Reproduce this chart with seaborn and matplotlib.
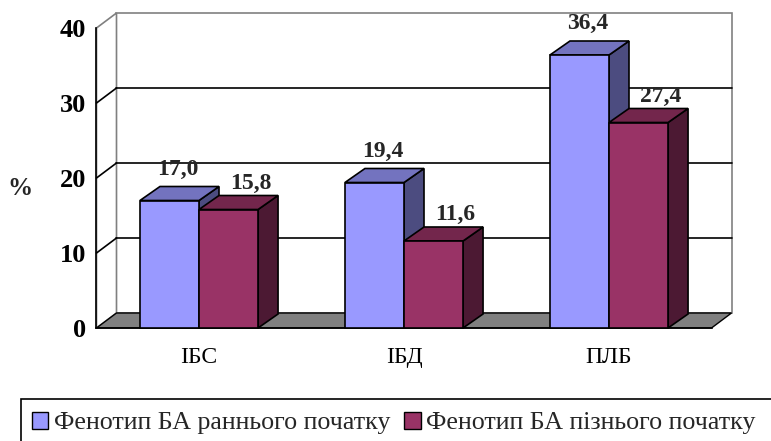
import pandas as pd
import numpy as np
import matplotlib.pyplot as plt
import matplotlib.colors as mcolors
import seaborn as sns
from matplotlib.patches import Polygon, Rectangle, Patch

# data
categories = ["ІБС", "ІБД", "ПЛБ"]
early_onset = [17.0, 19.4, 36.4]
late_onset = [15.8, 11.6, 27.4]
series_names = ["Фенотип БА раннього початку", "Фенотип БА пізнього початку"]
y_ticks = [0, 10, 20, 30, 40]

front_colors = ["#9999FF", "#993366"]
top_colors = ["#7373BF", "#73264C"]
side_colors = ["#4C4C80", "#4C1933"]

sns.set_style("white")
plt.rcParams["font.family"] = ["Liberation Serif", "DejaVu Serif"]

df = pd.DataFrame({
    "category": categories * 2,
    "value": early_onset + late_onset,
    "series": [series_names[0]] * len(categories) + [series_names[1]] * len(categories),
})

W, H = 771, 441
fig = plt.figure(figsize=(W / 100, H / 100), dpi=100)
ax = fig.add_axes([0, 0, 1, 1])

# pixel geometry of the excel style 3d box
px_per_cat = 205.0
px_per_unit = 7.5
x0_px, y0_px = 199.0, 328.0          # centre of first category, value 0
DX, DY = 20 / px_per_cat, 15 / px_per_unit    # wall depth
BDX, BDY = 20 / px_per_cat, 14 / px_per_unit  # bar depth
left, right, top = -0.5, len(categories) - 0.5, y_ticks[-1]
# label placement per series (x shift in px, height above value in units)
label_dx = [8 / px_per_cat, 22 / px_per_cat]
label_dy = [4.2, 3.5]

sns.barplot(data=df, x="category", y="value", hue="series", palette=front_colors,
            saturation=1, width=0.576, edgecolor="black", linewidth=1.2,
            legend=False, ax=ax)

ax.set_xlim(-x0_px / px_per_cat, (W - x0_px) / px_per_cat)
ax.set_ylim(-(H - y0_px) / px_per_unit, y0_px / px_per_unit)

# walls and floor
wall_grey = "#808080"
ax.add_patch(Rectangle((left + DX, DY), right - left, top, facecolor="white",
                       edgecolor=wall_grey, lw=1.2, zorder=1))
ax.add_patch(Polygon([(left, 0), (left + DX, DY), (left + DX, top + DY), (left, top)],
                     closed=True, facecolor="white", edgecolor=wall_grey, lw=1.2, zorder=1))
for v in y_ticks[1:-1]:
    ax.plot([left + DX, right + DX], [v + DY, v + DY], color="black", lw=1.2, zorder=1.5)
    ax.plot([left, left + DX], [v, v + DY], color="black", lw=1.2, zorder=1.5)
ax.add_patch(Polygon([(left, 0), (right, 0), (right + DX, DY), (left + DX, DY)],
                     closed=True, facecolor=wall_grey, edgecolor="black", lw=1.0, zorder=2))

# 3d tops and sides for the seaborn bars
bars = sorted([p for p in ax.patches if isinstance(p, Rectangle)
               and p.get_height() > 0 and p.get_width() < 1],
              key=lambda p: p.get_x())
for i, p in enumerate(bars):
    x, w, h = p.get_x(), p.get_width(), p.get_height()
    hexc = mcolors.to_hex(p.get_facecolor()).upper()
    k = front_colors.index(hexc) if hexc in front_colors else 0
    z = 3 + i * 0.01
    ax.add_patch(Polygon([(x + w, 0), (x + w + BDX, BDY), (x + w + BDX, h + BDY), (x + w, h)],
                         closed=True, facecolor=side_colors[k], edgecolor="black", lw=1.2, zorder=z))
    ax.add_patch(Polygon([(x, h), (x + w, h), (x + w + BDX, h + BDY), (x + BDX, h + BDY)],
                         closed=True, facecolor=top_colors[k], edgecolor="black", lw=1.2, zorder=z))
    p.set_zorder(5)
    ax.text(x + w / 2 + label_dx[k], h + label_dy[k], f"{h:.1f}".replace(".", ","),
            ha="center", va="center", fontsize=17, fontweight="bold", zorder=6)

# axes
ax.spines["top"].set_visible(False)
ax.spines["right"].set_visible(False)
ax.spines["left"].set_position(("data", left))
ax.spines["left"].set_bounds(0, top)
ax.spines["bottom"].set_position(("data", 0))
ax.spines["bottom"].set_bounds(left, right)
for s in ["left", "bottom"]:
    ax.spines[s].set_color("black")
    ax.spines[s].set_linewidth(1.2)
    ax.spines[s].set_zorder(2.5)

ax.set_yticks(y_ticks)
ax.set_yticklabels([str(t) for t in y_ticks], fontweight="bold")
ax.tick_params(axis="y", direction="out", length=4.5, width=1.2, pad=3,
               labelsize=19, color="black", labelcolor="black")
ax.set_xticks(range(len(categories)))
ax.set_xticklabels(categories)
ax.tick_params(axis="x", which="major", length=0, pad=14, labelsize=17, labelcolor="black")
ax.set_xticks(np.arange(left, right + 0.01, 1.0), minor=True)
ax.tick_params(axis="x", which="minor", direction="out", length=5, width=1.2, color="black")
ax.set_xlabel("")
ax.set_ylabel("")

ax.text((20 - x0_px) / px_per_cat, (y0_px - 189) / px_per_unit, "%",
        ha="center", va="center", fontsize=18, fontweight="bold")

# legend with its frame running off the canvas
handles = [Patch(facecolor=c, edgecolor="black", lw=1.0) for c in front_colors]
fig.legend(handles, series_names, loc="center left", bbox_to_anchor=(32 / W, 1 - 423 / H),
           ncol=2, frameon=False, fontsize=18.7, handlelength=0.62, handleheight=0.62,
           handletextpad=0.22, columnspacing=0.55, borderaxespad=0, borderpad=0)
fig.add_artist(Rectangle((21 / W, -0.2), 2, (1 - 399 / H) + 0.2, transform=fig.transFigure,
                         fill=False, edgecolor="black", lw=1.2))

fig.savefig("out.png", dpi=100)
